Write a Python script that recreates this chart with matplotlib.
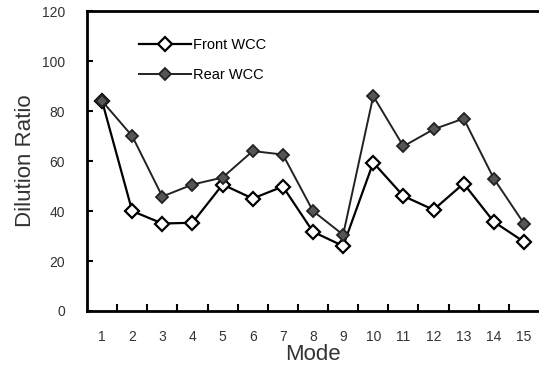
#! /usr/bin/env python3

# Dilution ratio of front and rear WCC for each test mode.

import matplotlib
matplotlib.use('Agg')
import matplotlib.pyplot as plt
import numpy as np

modes = np.arange(1, 16)
front_wcc = [84, 40, 35, 35.3, 50.6, 45, 49.8, 31.7, 26, 59.4, 46, 40.5, 51, 35.7, 27.7]
rear_wcc = [84, 70, 45.8, 50.6, 53.4, 64, 62.6, 40, 30.5, 86, 65.9, 72.7, 77, 53, 35]
y_ticks = [0, 20, 40, 60, 80, 100, 120]

plt.rcParams['font.family'] = ['Liberation Sans', 'DejaVu Sans']

fig = plt.figure(figsize=(5.39, 3.70), dpi=100)
ax = fig.add_axes([0.1614, 0.1595, 0.8386, 0.8105])

ax.plot(modes, front_wcc, 'k-', lw=1.6, marker='D', ms=7, mfc='white',
        mec='black', mew=1.6, label='Front WCC')
ax.plot(modes, rear_wcc, '-', color='#222222', lw=1.4, marker='D', ms=6.5,
        mfc='#555555', mec='#222222', mew=1.3, label='Rear WCC')

ax.set_xlim(0.5, 15.5)
ax.set_ylim(0, 120)
ax.set_xticks(modes)
ax.set_xticks(np.arange(1.5, 15, 1), minor=True)
ax.set_yticks(y_ticks)
ax.tick_params(axis='x', which='major', length=0, pad=14, labelsize=10, colors='#333333')
ax.tick_params(axis='x', which='minor', direction='in', length=5, width=1.5)
ax.tick_params(axis='y', direction='in', length=4, width=1.5, pad=16,
               labelsize=10, colors='#333333')
ax.tick_params(axis='both', which='both', color='black')

for s in ['left', 'bottom', 'top']:
    ax.spines[s].set_linewidth(2)
ax.spines['right'].set_visible(False)

ax.set_ylabel('Dilution Ratio', fontsize=16, color='#333333', labelpad=4)
ax.set_xlabel('Mode', fontsize=16, color='#333333', labelpad=0)

ax.legend(loc='upper left', bbox_to_anchor=(0.098, 0.935), frameon=False,
          borderpad=0, fontsize=10.5, handlelength=3.6, labelspacing=1.1,
          handletextpad=0.1)

fig.savefig('out.png', dpi=100)
